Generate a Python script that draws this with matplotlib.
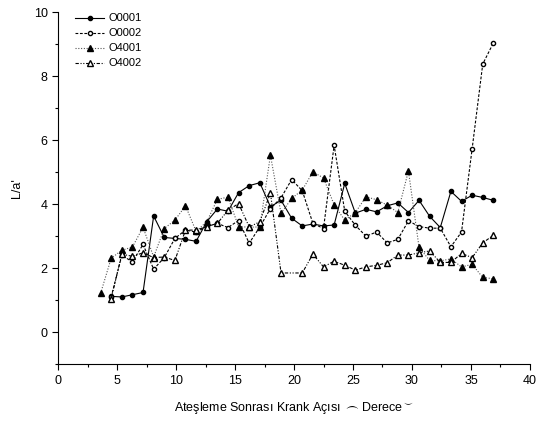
import matplotlib
matplotlib.use("Agg")
import matplotlib.pyplot as plt
from matplotlib.ticker import MultipleLocator

plt.rcParams['font.family'] = ['Liberation Sans', 'DejaVu Sans']
plt.rcParams['font.size'] = 9
plt.rcParams['mathtext.fontset'] = 'dejavusans'

# krank açısı ızgarası (derece)
aci_4001 = [3.6, 4.5, 5.4, 6.3, 7.2, 8.1, 9.0, 9.9, 10.8, 11.7, 12.6, 13.5, 14.4, 15.3,
            16.2, 17.1, 18.0, 18.9, 19.8, 20.7, 21.6, 22.5, 23.4, 24.3, 25.2, 26.1,
            27.0, 27.9, 28.8, 29.7, 30.6, 31.5, 32.4, 33.3, 34.2, 35.1, 36.0, 36.9]
aci = aci_4001[1:]
aci_4002 = [a for a in aci if a != 19.8]

o0001 = [1.12, 1.10, 1.17, 1.24, 3.63, 2.96, 2.93, 2.90, 2.84, 3.45, 3.85, 3.78, 4.36,
         4.58, 4.67, 3.92, 4.12, 3.56, 3.32, 3.38, 3.32, 3.35, 4.65, 3.72, 3.84, 3.76,
         3.95, 4.04, 3.74, 4.12, 3.62, 3.27, 4.40, 4.09, 4.28, 4.21, 4.12]
o0002 = [1.10, 2.40, 2.20, 2.74, 1.97, 2.33, 2.93, 3.19, 3.13, 3.30, 3.40, 3.27, 3.49,
         2.78, 3.29, 3.86, 4.20, 4.77, 4.42, 3.40, 3.24, 5.84, 3.78, 3.34, 3.00, 3.13,
         2.79, 2.90, 3.48, 3.30, 3.25, 3.25, 2.67, 3.13, 5.73, 8.38, 9.04]
o4001 = [1.21, 2.31, 2.56, 2.66, 3.28, 2.35, 3.24, 3.50, 3.95, 3.15, 3.45, 4.15, 4.22,
         3.30, 3.28, 3.29, 5.53, 3.71, 4.18, 4.44, 5.01, 4.82, 3.98, 3.50, 3.74, 4.23,
         4.14, 3.97, 3.74, 5.04, 2.65, 2.24, 2.23, 2.29, 2.04, 2.12, 1.71, 1.67]
o4002 = [1.05, 2.44, 2.37, 2.48, 2.33, 2.35, 2.24, 3.19, 3.19, 3.30, 3.40, 3.81, 4.02,
         3.29, 3.45, 4.35, 1.85, 1.85, 2.44, 2.04, 2.22, 2.09, 1.94, 2.04, 2.09, 2.17,
         2.41, 2.41, 2.48, 2.54, 2.18, 2.18, 2.46, 2.33, 2.79, 3.03]

fig = plt.figure(figsize=(5.38, 4.21), dpi=100)
ax = fig.add_axes([0.108, 0.135, 0.877, 0.836])

ax.plot(aci, o0001, color='black', linestyle='-', linewidth=0.8,
        marker='o', markersize=3.0, label='O0001')
ax.plot(aci, o0002, color='black', linestyle=(0, (2.5, 1.5)), linewidth=0.8,
        marker='o', markersize=3.0, markerfacecolor='white', label='O0002')
ax.plot(aci_4001, o4001, color='#555555', linestyle=(0, (1, 1.5)), linewidth=0.8,
        marker='^', markersize=4.6, markerfacecolor='black', markeredgecolor='black',
        label='O4001')
ax.plot(aci_4002, o4002, color='black', linestyle=(0, (3, 1.5, 1, 1.5, 1, 1.5)), linewidth=0.8,
        marker='^', markersize=4.6, markerfacecolor='white', label='O4002')

ax.set_xlim(0, 40)
ax.set_ylim(-1, 10)
ax.xaxis.set_major_locator(MultipleLocator(5))
ax.xaxis.set_minor_locator(MultipleLocator(2.5))
ax.yaxis.set_major_locator(MultipleLocator(2))
ax.yaxis.set_minor_locator(MultipleLocator(1))
ax.tick_params(which='both', direction='out', width=0.8)
ax.tick_params(which='major', length=4)
ax.tick_params(which='minor', length=2.5)

ax.spines['top'].set_visible(False)
ax.spines['right'].set_visible(False)
ax.spines['left'].set_linewidth(0.8)
ax.spines['bottom'].set_linewidth(0.8)

ax.set_ylabel("L/a'", labelpad=8)
ax.set_xlabel(r"Ateşleme Sonrası Krank Açısı $\frown$Derece$^{\smile}$", labelpad=10)

ax.legend(loc='upper left', bbox_to_anchor=(0.015, 1.025), frameon=False,
          fontsize=8, handlelength=2.6, labelspacing=0.45, handletextpad=0.4)

fig.savefig('out.png', dpi=100)
